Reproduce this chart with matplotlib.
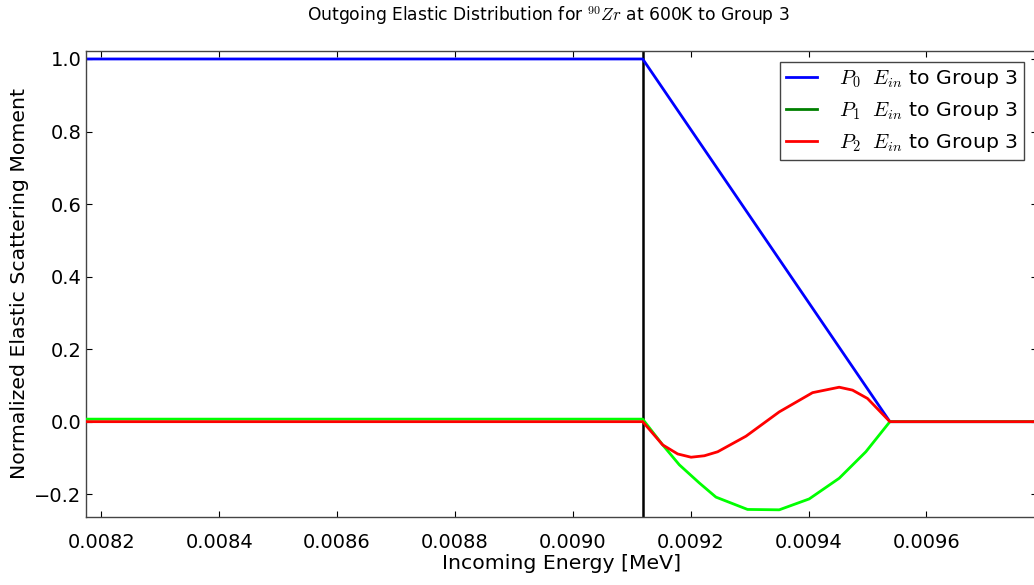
import matplotlib
matplotlib.use("Agg")
import matplotlib.pyplot as plt
from matplotlib.lines import Line2D

plt.rcParams["mathtext.fontset"] = "cm"
plt.rcParams["font.family"] = "DejaVu Sans"

# Group boundary and end of the down-scatter range [MeV]
e_boundary = 0.0091186
e_end = 0.009538

# P0 moment
p0_energy = [0.0081, e_boundary, e_end, 0.0099]
p0_value = [1.0, 1.0, 0.0, 0.0]

# P1 moment
p1_energy = [0.0081, e_boundary, 0.0091525, 0.0091808, 0.0092147, 0.0092429,
             0.0092965, 0.0093503, 0.0094011, 0.009452, 0.0094972, e_end, 0.0099]
p1_value = [0.007, 0.007, -0.064, -0.119, -0.169, -0.208,
            -0.242, -0.243, -0.213, -0.156, -0.083, 0.0, 0.0]

# P2 moment
p2_energy = [0.0081, e_boundary, 0.0091525, 0.009178, 0.0092007, 0.0092232,
             0.0092458, 0.0092939, 0.0093503, 0.0094068, 0.009452, 0.0094746,
             0.0095, e_end, 0.0099]
p2_value = [0.0, 0.0, -0.064, -0.089, -0.098, -0.094,
            -0.083, -0.040, 0.027, 0.080, 0.095, 0.087,
            0.064, 0.0, 0.0]

xticks = [0.0082, 0.0084, 0.0086, 0.0088, 0.0090, 0.0092, 0.0094, 0.0096]
yticks = [-0.2, 0.0, 0.2, 0.4, 0.6, 0.8, 1.0]
labels = [r"$P_0\ \ E_{in}$ to Group 3",
          r"$P_1\ \ E_{in}$ to Group 3",
          r"$P_2\ \ E_{in}$ to Group 3"]

fig = plt.figure(figsize=(10.34, 5.85), dpi=100)
ax = fig.add_axes([85.7 / 1034, 1 - 516.7 / 585, (1037 - 85.7) / 1034, (516.7 - 51) / 585])

ax.axvline(e_boundary, color="black", lw=1.8, zorder=1)
ax.plot(p0_energy, p0_value, color="blue", lw=2, zorder=2)
ax.plot(p1_energy, p1_value, color="lime", lw=2, zorder=3)
ax.plot(p2_energy, p2_value, color="red", lw=2, zorder=4)

ax.set_xlim(0.0081736, 0.0097876)
ax.set_ylim(-0.262, 1.022)
ax.set_xticks(xticks)
ax.set_xticklabels([f"{t:.4f}" for t in xticks])
ax.set_yticks(yticks)
ax.set_yticklabels([f"{t:.1f}".replace("-", "\u2212") for t in yticks])
ax.tick_params(direction="in", top=True, right=True, labelsize=14, length=4)
ax.tick_params(axis="x", pad=12)
ax.tick_params(axis="y", pad=3)
for s in ax.spines.values():
    s.set_color("#444444")
    s.set_linewidth(1.0)

ax.set_xlabel("Incoming Energy [MeV]", fontsize=14.7, labelpad=1)
ax.set_ylabel("Normalized Elastic Scattering Moment", fontsize=14.7, labelpad=4)
fig.text(548 / 1034, 1 - 16 / 585, r"Outgoing Elastic Distribution for $^{90}Zr$ at 600K to Group 3",
         ha="center", va="center", fontsize=12.3)

handles = [Line2D([], [], color="blue", lw=2),
           Line2D([], [], color="green", lw=2),
           Line2D([], [], color="red", lw=2)]
leg = ax.legend(handles, labels, loc="upper left",
                bbox_to_anchor=((780 - 85.7) / (1037 - 85.7), 1 - (61.6 - 51) / (516.7 - 51)),
                borderaxespad=0, fontsize=14.7, fancybox=False, framealpha=1,
                handlelength=1.5, handletextpad=1.1, labelspacing=0.5, borderpad=0.3)
leg.get_frame().set_edgecolor("#444444")
leg.get_frame().set_linewidth(1.0)

fig.savefig("out.png", dpi=100)
